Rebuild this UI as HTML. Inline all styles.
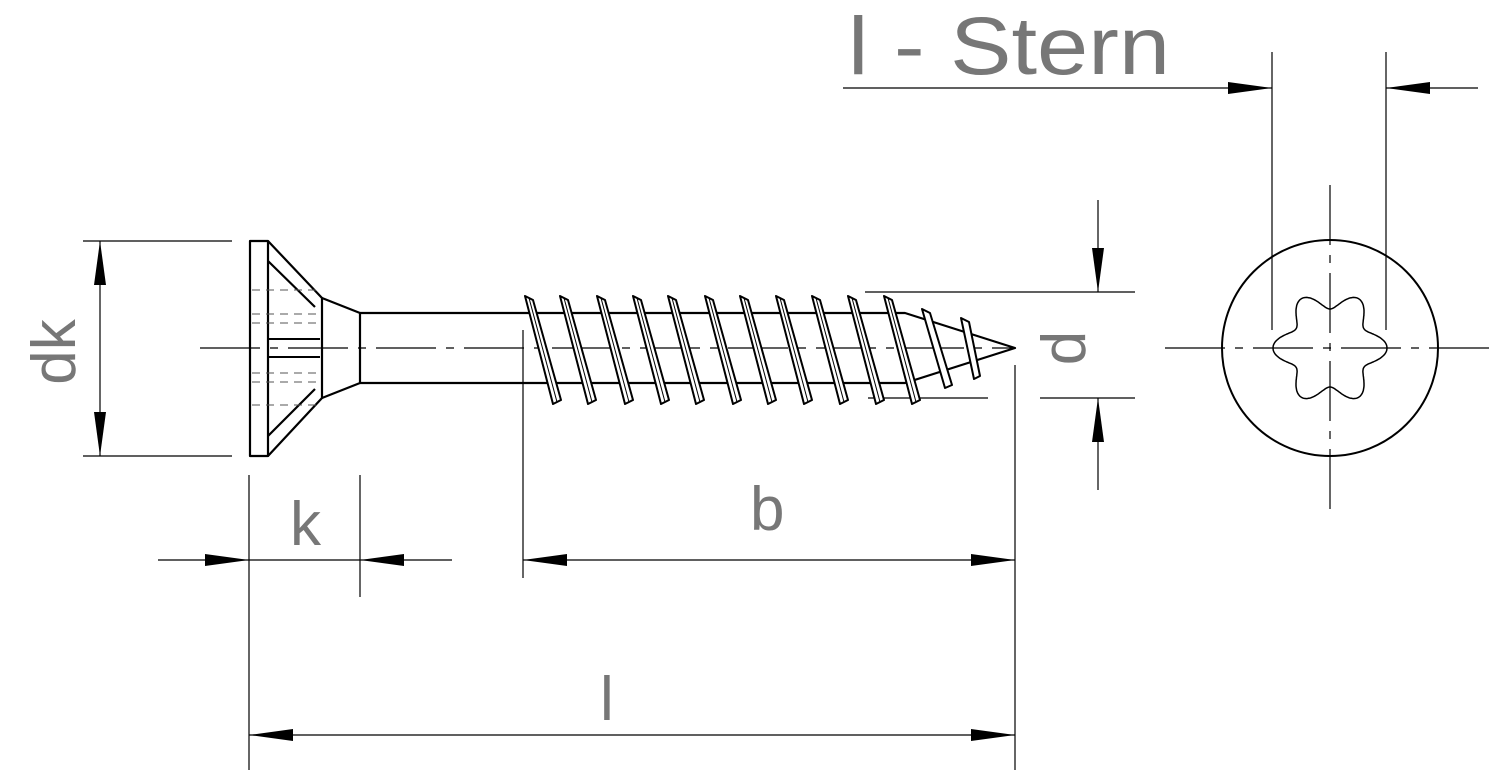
<!DOCTYPE html>
<html><head><meta charset="utf-8"><style>html,body{margin:0;padding:0;background:#fff}svg{display:block}</style></head>
<body>
<svg id="s" width="1500" height="775" viewBox="0 0 1500 775" xmlns="http://www.w3.org/2000/svg">
<defs>
<marker id="a" viewBox="0 0 44 12" refX="44" refY="6" markerWidth="44" markerHeight="12" markerUnits="userSpaceOnUse" orient="auto-start-reverse"><path d="M0,0 L44,6 L0,12 Z" fill="#000"/></marker>
<g id="t"><path d="M0,296 L8,300 L36,400 L28,404 Z"/><line x1="4" y1="298" x2="32" y2="402" stroke-width="1"/></g>
</defs>
<g stroke="#000" stroke-width="1.2" fill="none">
<line x1="200" y1="348" x2="1015" y2="348" stroke-dasharray="60,10,8,10"/>
<line x1="1165" y1="348" x2="1492" y2="348" stroke-dasharray="60,10,8,10"/>
<line x1="1330" y1="185" x2="1330" y2="510" stroke-dasharray="60,10,8,10"/>
<line x1="843" y1="88" x2="1272" y2="88" marker-end="url(#a)"/>
<line x1="1478" y1="88" x2="1386" y2="88" marker-end="url(#a)"/>
<line x1="1272" y1="52" x2="1272" y2="330"/>
<line x1="1386" y1="52" x2="1386" y2="330"/>
<line x1="1098" y1="200" x2="1098" y2="292" marker-end="url(#a)"/>
<line x1="1098" y1="490" x2="1098" y2="398" marker-end="url(#a)"/>
<line x1="865" y1="292" x2="1135" y2="292"/>
<line x1="868" y1="398" x2="988" y2="398"/>
<line x1="1040" y1="398" x2="1135" y2="398"/>
<line x1="100" y1="348" x2="100" y2="241" marker-end="url(#a)"/>
<line x1="100" y1="348" x2="100" y2="456" marker-end="url(#a)"/>
<line x1="83" y1="241" x2="232" y2="241"/>
<line x1="83" y1="456" x2="232" y2="456"/>
<line x1="158" y1="560" x2="249" y2="560" marker-end="url(#a)"/>
<line x1="452" y1="560" x2="360" y2="560" marker-end="url(#a)"/>
<line x1="249" y1="560" x2="360" y2="560"/>
<line x1="249" y1="475" x2="249" y2="770"/>
<line x1="360" y1="475" x2="360" y2="597"/>
<line x1="523" y1="560" x2="1015" y2="560" marker-start="url(#a)" marker-end="url(#a)"/>
<line x1="523" y1="330" x2="523" y2="578"/>
<line x1="1015" y1="365" x2="1015" y2="770"/>
<line x1="249" y1="735" x2="1015" y2="735" marker-start="url(#a)" marker-end="url(#a)"/>
</g>
<g stroke="#000" stroke-width="2.2" fill="none" stroke-linejoin="round">
<rect x="250" y="241" width="18" height="215"/>
<path d="M268,241 L322,298 L322,398 L268,456"/>
<path d="M268,261 L315,307 M268,436 L315,389"/>
<path d="M322,298 L360,313 L360,383 L322,398"/>
<path d="M360,313 L905,313 L1015,348 L905,383 L360,383"/>
</g>
<g stroke="#000" stroke-width="1" fill="none">
<path d="M252,290 H320 M252,314 H320 M252,323 H320 M252,373 H320 M252,382 H320 M252,405 H320" stroke-dasharray="8,6" stroke="#555"/>
<path d="M268,339 H320 M268,357 H320" stroke-width="2"/>
</g>
<g stroke="#000" stroke-width="2" fill="#fff" stroke-linejoin="round">
<use href="#t" x="525"/><use href="#t" x="560"/><use href="#t" x="597"/><use href="#t" x="633"/>
<use href="#t" x="668"/><use href="#t" x="705"/><use href="#t" x="740"/><use href="#t" x="776"/>
<use href="#t" x="812"/><use href="#t" x="848"/><use href="#t" x="884"/>
<path d="M922,309 L930,313 L952,385 L945,388 Z"/>
<path d="M961,318 L969,322 L980,376 L974,379 Z"/>
</g>
<circle cx="1330" cy="348" r="108" stroke="#000" stroke-width="2" fill="none"/>
<path id="star" stroke="#000" stroke-width="1.5" fill="none"/>
<g font-family="Liberation Sans, sans-serif" fill="#777">
<text x="848" y="74" font-size="82" textLength="322" lengthAdjust="spacingAndGlyphs">l - Stern</text>
<text x="290" y="545" font-size="62">k</text>
<text x="750" y="530" font-size="62">b</text>
<text x="600" y="720" font-size="62">l</text>
<text x="75" y="352" font-size="62" transform="rotate(-90 75 352)" text-anchor="middle">dk</text>
<text x="1065" y="348" font-size="62" transform="rotate(-90 1065 348)" text-anchor="middle" dy="20">d</text>
</g>
<script>
var p='';for(var i=0;i<=360;i++){var t=i*Math.PI/180,r=48+9*Math.cos(6*t);p+=(i?'L':'M')+(1330+r*Math.cos(t)).toFixed(1)+','+(348+r*Math.sin(t)).toFixed(1);}
document.getElementById('star').setAttribute('d',p+'Z');
</script>
</svg>
</body></html>
